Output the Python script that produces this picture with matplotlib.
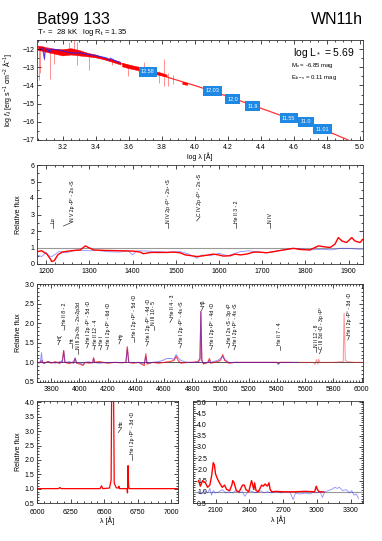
import numpy as np
import matplotlib
matplotlib.use("Agg")
import matplotlib.pyplot as plt
from matplotlib.ticker import MultipleLocator

plt.rcParams['font.family'] = ['Liberation Sans', 'DejaVu Sans']
plt.rcParams['mathtext.fontset'] = 'custom'
plt.rcParams['mathtext.rm'] = 'Liberation Sans'
plt.rcParams['mathtext.it'] = 'Liberation Sans:italic'

RED = '#ff0000'
BLUE = '#2020ff'
GREY = '#999999'
BOX = '#1e88e5'

# ---------------- SED panel ----------------
sed_model_x = [3.05, 3.2, 3.4, 3.6, 3.8, 4.0, 4.2, 4.4, 4.6, 4.8, 4.93]
sed_model_y = [-11.85, -12.1, -12.45, -12.9, -13.45, -14.0, -14.6, -15.25, -15.9, -16.5, -17.0]

sed_band_x = [3.05, 3.08, 3.10, 3.15, 3.20, 3.25, 3.30, 3.35, 3.40, 3.45, 3.50, 3.55]
sed_band_hi = [-11.85, -11.85, -11.95, -12.0, -12.0, -11.95, -12.05, -12.2, -12.3, -12.45, -12.55, -12.7]
sed_band_lo = [-12.05, -12.1, -12.15, -12.25, -12.35, -12.3, -12.35, -12.4, -12.45, -12.55, -12.7, -12.85]
opt_band_x = [3.56, 3.60, 3.65, 3.70, 3.75, 3.80, 3.83]
opt_band_hi = [-12.75, -12.85, -12.95, -13.05, -13.2, -13.3, -13.4]
opt_band_lo = [-12.95, -13.05, -13.15, -13.25, -13.35, -13.45, -13.5]
nir_band_x = [3.925, 3.955]
nir_band_hi = [-13.8, -13.85]
nir_band_lo = [-13.92, -13.97]

spike_x = [3.055, 3.065, 3.09, 3.125, 3.15, 3.24, 3.27, 3.285, 3.29, 3.36, 3.50,
           3.594, 3.655, 3.695, 3.785, 3.816, 3.816, 3.836, 3.867, 3.867]
spike_lo = [-13.7, -13.3, -12.6, -13.65, -12.8, -12.0, -12.0, -12.9, -12.1, -13.15, -12.85,
            -13.5, -13.2, -13.0, -13.85, -13.3, -14.05, -14.05, -13.6, -13.9]
spike_hi = [-12.0, -12.0, -12.0, -12.1, -12.1, -11.6, -11.5, -12.1, -11.6, -12.3, -12.55,
            -12.85, -12.95, -12.7, -13.2, -12.55, -13.3, -13.3, -13.4, -13.6]

sed_obs_x = [3.07, 3.08, 3.085, 3.09, 3.095, 3.10, 3.11, 3.12, 3.13, 3.15, 3.18, 3.20, 3.22,
             3.25, 3.28, 3.30, 3.33, 3.36, 3.40, 3.43, 3.45, 3.47, 3.48, 3.49, 3.50, 3.52, 3.55]
sed_obs_y = [-11.95, -11.95, -12.3, -12.55, -12.1, -12.0, -11.98, -12.2, -12.0, -12.02, -12.05,
             -12.1, -12.15, -12.2, -12.22, -12.2, -12.25, -12.3, -12.35, -12.42, -12.45, -12.5,
             -12.62, -12.5, -12.55, -12.65, -12.75]

phot_x = [3.717, 4.11, 4.23, 4.35, 4.57, 4.675, 4.776]
phot_y = [-13.25, -14.3, -14.75, -15.13, -15.8, -16.0, -16.4]
phot_mag = ['12.58', '12.03', '12.0', '11.9', '11.55', '11.0', '11.01']

# ---------------- UV panel ----------------
uv_mod_x = [1179, 1190, 1202, 1210, 1213, 1219, 1227, 1237, 1256, 1279, 1291, 1298, 1310,
            1341, 1379, 1402, 1418, 1425, 1441, 1479, 1495, 1510, 1522, 1537, 1549, 1564,
            1587, 1599, 1610, 1626, 1637, 1649, 1664, 1680, 1695, 1710, 1726, 1749, 1772,
            1787, 1810, 1830, 1841, 1857, 1868, 1876, 1884, 1895, 1907, 1914, 1926, 1933]
uv_mod_y = [0.75, 0.8, 0.6, 0.3, 0.15, 0.2, 0.55, 0.72, 0.8, 0.85, 1.1, 1.0, 0.85,
            0.82, 0.8, 0.78, 0.72, 0.62, 0.7, 0.7, 0.72, 0.68, 0.55, 0.5, 0.45, 0.5,
            0.6, 0.55, 0.48, 0.5, 0.6, 0.55, 0.6, 0.72, 0.72, 0.68, 0.75, 0.85, 0.95,
            0.88, 0.85, 1.1, 1.05, 1.0, 1.2, 1.6, 1.4, 1.3, 1.6, 1.4, 1.3, 1.5]
uv_obs_x = [1179, 1190, 1200, 1206, 1213, 1222, 1230, 1250, 1270, 1300, 1320, 1340, 1370,
            1390, 1400, 1410, 1440, 1480, 1510, 1530, 1549, 1560, 1580, 1600, 1620, 1650,
            1670, 1700, 1720, 1740, 1760, 1780, 1810, 1840, 1860, 1880, 1900, 1920, 1933]
uv_obs_y = [0.55, 0.45, 0.7, 0.5, 0.45, 0.6, 0.75, 0.7, 0.85, 0.8, 0.82, 0.75, 0.72,
            0.8, 0.55, 0.8, 0.78, 0.72, 0.75, 0.6, 0.35, 0.55, 0.5, 0.65, 0.5, 0.75,
            0.8, 0.7, 0.7, 0.82, 0.9, 0.95, 0.85, 0.9, 0.85, 0.95, 0.95, 0.9, 0.9]

uv_lab_x = [1216, 1262, 1483, 1556, 1640, 1718]
uv_lab_y = [2.5, 2.6, 2.5, 2.9, 2.5, 2.5]
uv_lab_dx = [0, 22, 0, 8, 0, 0]
uv_lab_text = ['Lα', 'N V 2p ²P° - 2s ²S', 'N IV 2p ³P° - 2s² ¹S', 'C IV 2p ²P° - 2s ²S',
               'He II 3 - 2', 'N IV']

# ---------------- optical panel ----------------
opt_mod_x = [3700, 3720, 3735, 3745, 3780, 3800, 3830, 3860, 3880, 3889, 3898, 3930, 3960,
             3970, 3980, 4010, 4026, 4040, 4070, 4095, 4101, 4108, 4140, 4200, 4250, 4300,
             4330, 4340, 4350, 4380, 4420, 4460, 4471, 4480, 4520, 4560, 4600, 4640, 4670,
             4686, 4700, 4720, 4760, 4800, 4840, 4855, 4861, 4868, 4880, 4910, 4922, 4930,
             4980, 5000, 5016, 5030, 5060, 5100, 5200, 5300, 5400, 5411, 5420, 5500, 5600,
             5660, 5670, 5680, 5690, 5696, 5705, 5750, 5800, 5860, 5870, 5876, 5885, 5900,
             5950, 6010]
opt_mod_y = [1.0, 1.0, 1.05, 0.98, 1.02, 0.98, 1.02, 0.97, 1.05, 1.3, 1.0, 0.97, 1.02,
             1.1, 0.98, 0.95, 0.92, 1.0, 0.98, 1.0, 1.12, 1.0, 1.02, 0.98, 1.0, 0.99,
             1.0, 1.4, 1.0, 0.98, 1.0, 0.92, 1.22, 0.96, 1.0, 0.98, 1.0, 1.02, 1.05,
             1.15, 1.05, 0.98, 1.0, 1.0, 1.02, 1.1, 2.3, 1.05, 0.96, 1.0, 1.1, 0.98,
             1.02, 1.05, 1.2, 1.05, 0.98, 1.0, 1.0, 1.0, 1.0, 0.97, 1.0, 1.0, 1.0,
             1.0, 0.95, 1.07, 0.96, 1.08, 1.0, 1.0, 1.0, 1.02, 1.0, 2.25, 1.05, 1.02,
             1.0, 1.0]
opt_obs_x = [3700, 3715, 3725, 3732, 3738, 3750, 3780, 3800, 3830, 3860, 3880, 3889, 3898,
             3930, 3960, 3970, 3980, 4010, 4026, 4040, 4070, 4095, 4101, 4108, 4140, 4200,
             4250, 4300, 4330, 4340, 4350, 4380, 4420, 4460, 4471, 4480, 4520, 4560, 4590,
             4620, 4650, 4670, 4686, 4700, 4720, 4760, 4800, 4840, 4855, 4861, 4868, 4880,
             4910, 4922, 4930, 4980, 5000, 5016, 5030, 5060, 5100, 5200, 5300, 5400, 5411,
             5420, 5500, 5550]
opt_obs_y = [1.0, 0.98, 1.02, 1.25, 1.0, 0.97, 1.02, 1.0, 0.98, 1.02, 1.0, 1.3, 1.0,
             1.02, 0.97, 1.12, 1.0, 0.98, 0.95, 1.0, 1.02, 0.98, 1.1, 1.0, 0.98, 1.0,
             1.0, 1.0, 1.0, 1.35, 1.0, 1.0, 1.0, 0.97, 1.15, 0.98, 1.0, 1.02, 1.05,
             1.1, 1.1, 1.08, 1.2, 1.12, 1.05, 1.0, 1.0, 1.0, 1.05, 2.3, 1.05, 0.97,
             1.0, 1.05, 1.0, 1.05, 1.1, 1.15, 1.08, 1.0, 1.0, 1.0, 1.0, 1.0, 0.94,
             1.0, 1.0, 1.0]

opt_lab_x = [3862, 3898, 3947, 3994, 4065, 4112, 4159, 4206, 4293, 4388, 4489, 4529, 4660,
             4725, 4880, 4944, 5066, 5108, 5419, 5679, 5714, 5914]
opt_lab_y = [1.58, 1.95, 1.5, 1.35, 1.5, 1.45, 1.45, 1.45, 1.6, 1.65, 1.55, 1.95, 2.15,
             1.5, 2.45, 1.45, 1.5, 1.45, 1.45, 1.4, 1.35, 1.7]
opt_lab_dx = [12, 6, 0, 0, 12, 8, 10, 10, 12, 0, 12, 0, 18, 12, 15, 12, 10, 12, 0, 0, 12, 12]
opt_lab_text = ['Hζ', 'He II 8 - 2', 'Hε', 'N III 2s²3s - 2s²2p3d', 'He I 2p ³P° - 5d ³D',
                'He II 12 - 4', 'He I', 'He I 2p ¹P° - 6d ¹D', 'Hγ', 'He I 2p ¹P° - 5d ¹D',
                'He I 2p ³P° - 4d ³D', 'N III 10 - 5', 'He II 4 - 3', 'He I 2p ³P° - 4s ³S',
                'Hβ', 'He I 2p ¹P° - 4d ¹D', 'He I 2s ¹S - 3p ¹P', 'He I 2p ¹P° - 4s ¹S',
                'He II 7 - 4', 'N II 12 - 8', 'C III 3d ¹D - 3p ¹P°', 'He I 2p ³P° - 3d ³D']

# ---------------- red panel ----------------
red_x = [6000, 6100, 6160, 6170, 6180, 6300, 6400, 6470, 6480, 6490, 6540, 6552, 6556,
         6563, 6570, 6575, 6590, 6605, 6610, 6615, 6650, 6670, 6674, 6678, 6682, 6686,
         6700, 6800, 6900, 7050]
red_y = [1.0, 1.0, 1.0, 1.04, 1.0, 1.0, 1.0, 1.0, 1.1, 1.0, 1.02, 1.3, 4.5,
         5.0, 4.5, 1.2, 1.03, 1.02, 1.08, 1.0, 1.0, 1.0, 0.85, 1.8, 1.1, 1.0,
         1.0, 1.0, 1.0, 1.0]
red_lab_x = [6630, 6711]
red_lab_y = [3.15, 2.2]
red_lab_dx = [25, 0]
red_lab_text = ['Hα', 'He I 2p ¹P° - 3d ¹D']

# ---------------- near-UV panel ----------------
nuv_mod_x = [1950, 1965, 1985, 2010, 2030, 2050, 2065, 2080, 2090, 2100, 2115, 2135, 2160,
             2180, 2200, 2225, 2245, 2253, 2265, 2285, 2310, 2340, 2355, 2370, 2395, 2420,
             2440, 2447, 2460, 2480, 2510, 2525, 2540, 2560, 2575, 2585, 2600, 2640, 2700,
             2800, 2900, 2980, 2995, 3005, 3020, 3060]
nuv_mod_y = [1.5, 1.25, 1.5, 1.4, 1.2, 1.3, 1.7, 2.3, 2.2, 1.8, 1.6, 1.4, 1.2,
             1.3, 1.1, 1.05, 1.3, 1.5, 1.4, 1.05, 1.0, 1.3, 1.3, 1.1, 1.0, 1.5,
             1.1, 1.4, 1.05, 1.0, 1.3, 1.25, 1.35, 1.25, 1.4, 1.1, 1.0, 1.02, 1.0,
             1.0, 1.02, 1.0, 1.25, 1.1, 1.0, 1.0]
nuv_obs_x = [1950, 1970, 2000, 2030, 2050, 2065, 2080, 2100, 2130, 2160, 2190, 2220, 2250,
             2280, 2310, 2340, 2360, 2380, 2400, 2430, 2460, 2500, 2530, 2560, 2600, 2640,
             2680, 2720, 2760, 2790, 2810, 2850, 2900, 2940, 2970, 3000, 3030, 3050, 3070,
             3100, 3130, 3160, 3180, 3200, 3230, 3260, 3290, 3310, 3330, 3350, 3370]
nuv_obs_y = [1.0, 0.9, 1.05, 0.95, 1.15, 0.85, 1.05, 0.95, 1.0, 1.1, 0.95, 1.0, 0.95,
             1.05, 0.95, 1.0, 0.8, 0.95, 1.05, 1.0, 0.95, 1.05, 0.95, 1.0, 0.95, 1.0,
             0.95, 1.0, 1.0, 0.65, 0.95, 0.9, 0.95, 0.9, 1.0, 0.95, 1.0, 0.75, 1.0,
             1.05, 1.1, 1.2, 1.15, 1.2, 1.05, 1.1, 0.95, 1.05, 0.85, 0.9, 0.7]


def style(ax, fs=5):
    ax.tick_params(which='both', direction='in', top=True, right=True, labelsize=fs,
                   width=0.5, pad=2)
    ax.tick_params(axis='x', which='both', pad=3)
    ax.tick_params(which='major', length=3)
    ax.tick_params(which='minor', length=1.5)
    for s in ax.spines.values():
        s.set_linewidth(0.6)
        s.set_color('#333333')


def line_labels(ax, xs, ys, dxs, texts, dy, fs=3.7):
    for x, y, dx, t in zip(xs, ys, dxs, texts):
        ax.plot([x - dx, x], [y - dy, y - dy * 0.15], color='k', lw=0.4)
        ax.text(x, y, t, rotation=90, ha='center', va='bottom', fontsize=fs)


fig = plt.figure(figsize=(3.82, 5.41), dpi=100)
W, H = 382.0, 541.0


def add_axes(l, t, r, b):
    return fig.add_axes([l / W, 1 - b / H, (r - l) / W, (b - t) / H])


# SED
ax1 = add_axes(37, 40, 363, 140)
ax1.fill_between(sed_band_x, sed_band_lo, sed_band_hi, color=RED, lw=0.3)
ax1.fill_between(opt_band_x, opt_band_lo, opt_band_hi, color=RED, lw=0.3)
ax1.fill_between(nir_band_x, nir_band_lo, nir_band_hi, color=RED, lw=0.3)
ax1.vlines(spike_x, spike_lo, spike_hi, color=RED, lw=0.6, alpha=0.5)
ax1.plot(sed_model_x, sed_model_y, color=RED, lw=0.9, alpha=0.8)
ax1.plot(sed_obs_x, sed_obs_y, color=BLUE, lw=0.8, alpha=0.8)
for x, y, m in zip(phot_x, phot_y, phot_mag):
    ax1.text(x, y, m, color='white', fontsize=4, ha='center', va='center',
             bbox=dict(boxstyle='square,pad=0.45', fc=BOX, ec='none'))
ax1.set_xlim(3.045, 5.02)
ax1.set_ylim(-17, -11.5)
ax1.xaxis.set_major_locator(MultipleLocator(0.2))
ax1.xaxis.set_minor_locator(MultipleLocator(0.05))
ax1.yaxis.set_major_locator(MultipleLocator(1))
ax1.yaxis.set_minor_locator(MultipleLocator(0.5))
style(ax1)
ax1.set_xlabel('log λ [Å]', fontsize=5, labelpad=1)
ax1.set_ylabel('log $f_\\lambda$ [erg s$^{-1}$ cm$^{-2}$ Å$^{-1}$]', fontsize=5, labelpad=2)
ax1.yaxis.set_label_coords(-0.072, 0.5)
ax1.text(0.975, 0.87, 'log L$_*$ = 5.69', transform=ax1.transAxes, ha='right',
         va='center', fontsize=7.5)
ax1.text(0.78, 0.74, 'M$_\\mathrm{v}$ = -6.85 mag', transform=ax1.transAxes, ha='left',
         va='center', fontsize=4.3)
ax1.text(0.78, 0.62, 'E$_\\mathrm{b-v}$ = 0.11 mag', transform=ax1.transAxes, ha='left',
         va='center', fontsize=4.3)

fig.text(37 / W, 1 - 20 / H, 'Bat99 133', fontsize=11.5, ha='left', va='center')
fig.text(363 / W, 1 - 20 / H, 'WN11h', fontsize=11.5, ha='right', va='center')
fig.text(37 / W, 1 - 32 / H, 'T$_*$ =  28 kK   log R$_\\mathrm{t}$ = 1.35', fontsize=5.5,
         ha='left', va='center')

# UV
ax2 = add_axes(37, 165, 363, 264)
ax2.axhline(1.0, color=GREY, lw=0.8)
ax2.plot(uv_obs_x, uv_obs_y, color=BLUE, lw=0.6, alpha=0.5)
ax2.plot(uv_mod_x, uv_mod_y, color=RED, lw=1.0)
line_labels(ax2, uv_lab_x, uv_lab_y, uv_lab_dx, uv_lab_text, 0.3)
ax2.set_xlim(1179, 1933)
ax2.set_ylim(0, 6)
ax2.xaxis.set_major_locator(MultipleLocator(100))
ax2.xaxis.set_minor_locator(MultipleLocator(20))
ax2.yaxis.set_major_locator(MultipleLocator(1))
ax2.yaxis.set_minor_locator(MultipleLocator(0.5))
style(ax2)
ax2.set_ylabel('Relative flux', fontsize=5)
ax2.yaxis.set_label_coords(-0.047, 0.5)

# optical
ax3 = add_axes(37, 284, 363, 382)
ax3.axhline(1.0, color='#555555', lw=0.7)
ax3.plot(opt_mod_x, opt_mod_y, color=RED, lw=0.8, alpha=0.4)
mx = np.array(opt_mod_x)
my = np.array(opt_mod_y)
keep = mx <= 5550
ax3.plot(mx[keep], my[keep], color=RED, lw=0.8, alpha=0.5)
ax3.plot(opt_obs_x, opt_obs_y, color=BLUE, lw=0.7, alpha=0.5)
line_labels(ax3, opt_lab_x, opt_lab_y, opt_lab_dx, opt_lab_text, 0.13)
ax3.set_xlim(3700, 6010)
ax3.set_ylim(0.5, 3.0)
ax3.xaxis.set_major_locator(MultipleLocator(200))
ax3.xaxis.set_minor_locator(MultipleLocator(20))
ax3.yaxis.set_major_locator(MultipleLocator(0.5))
ax3.yaxis.set_minor_locator(MultipleLocator(0.1))
style(ax3)
ax3.set_ylabel('Relative flux', fontsize=5)
ax3.yaxis.set_label_coords(-0.047, 0.5)

# red
ax4 = add_axes(37, 401, 178, 503)
ax4.plot(red_x, red_y, color=RED, lw=0.9)
line_labels(ax4, red_lab_x, red_lab_y, red_lab_dx, red_lab_text, 0.2)
ax4.set_xlim(6000, 7050)
ax4.set_ylim(0.5, 4.05)
ax4.xaxis.set_major_locator(MultipleLocator(250))
ax4.xaxis.set_minor_locator(MultipleLocator(50))
ax4.yaxis.set_major_locator(MultipleLocator(0.5))
ax4.yaxis.set_minor_locator(MultipleLocator(0.1))
style(ax4)
ax4.tick_params(axis='x', which='major', pad=4.5)
ax4.set_xlabel('λ [Å]', fontsize=5, labelpad=0)
ax4.set_ylabel('Relative flux', fontsize=5)
ax4.yaxis.set_label_coords(-0.108, 0.5)

# near UV
ax5 = add_axes(193, 401, 363, 503)
ax5.axhline(1.0, color=GREY, lw=0.8)
ax5.plot(nuv_obs_x, nuv_obs_y, color=BLUE, lw=0.6, alpha=0.5)
ax5.plot(nuv_mod_x, nuv_mod_y, color=RED, lw=1.0)
ax5.set_xlim(1900, 3410)
ax5.set_ylim(0.5, 5.05)
ax5.xaxis.set_major_locator(MultipleLocator(300))
ax5.xaxis.set_minor_locator(MultipleLocator(100))
ax5.yaxis.set_major_locator(MultipleLocator(0.5))
ax5.yaxis.set_minor_locator(MultipleLocator(0.1))
style(ax5)
ax5.tick_params(axis='y', which='major', pad=-3)
plt.setp(ax5.get_yticklabels(), ha='left')
ax5.set_xlabel('λ [Å]', fontsize=5, labelpad=1)

fig.savefig('out.png', dpi=100)
